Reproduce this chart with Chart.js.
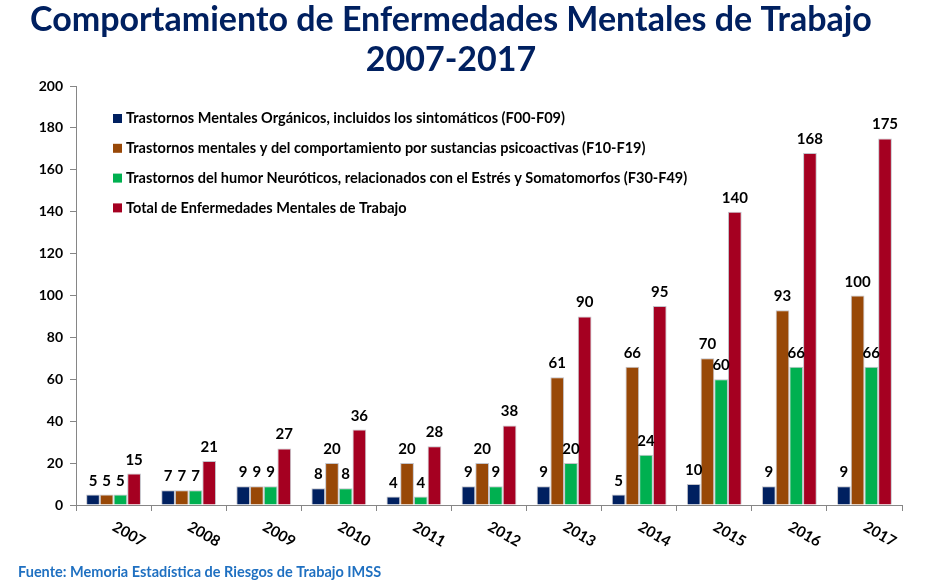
<!DOCTYPE html>
<html>
<head>
<meta charset="utf-8">
<script src="https://cdn.jsdelivr.net/npm/chart.js@4"></script>
<style>
  html, body { margin: 0; padding: 0; background: #ffffff; }
  #wrap { position: relative; width: 929px; height: 585px; }
</style>
</head>
<body>
<div id="wrap"><canvas id="c" width="929" height="585"></canvas></div>
<script>
const categories = ['2007','2008','2009','2010','2011','2012','2013','2014','2015','2016','2017'];
const organicos   = [5, 7, 9, 8, 4, 9, 9, 5, 10, 9, 9];
const sustancias  = [5, 7, 9, 20, 20, 20, 61, 66, 70, 93, 100];
const humor       = [5, 7, 9, 8, 4, 9, 20, 24, 60, 66, 66];
const totales     = [15, 21, 27, 36, 28, 38, 90, 95, 140, 168, 175];
const seriesNames = [
  'Trastornos Mentales Orgánicos, incluidos los sintomáticos (F00-F09)',
  'Trastornos mentales y del comportamiento por sustancias psicoactivas (F10-F19)',
  'Trastornos del humor Neuróticos, relacionados con el Estrés y Somatomorfos (F30-F49)',
  'Total de Enfermedades Mentales de Trabajo'
];
const seriesColors = ['#002060', '#984807', '#00B050', '#A50021'];
const titleLines = ['Comportamiento de Enfermedades Mentales de Trabajo', '2007-2017'];
const sourceText = 'Fuente: Memoria Estadística de Riesgos de Trabajo IMSS';

const FONT = 'Lato, "Open Sans", sans-serif';

const valueLabels = {
  id: 'valueLabels',
  afterDatasetsDraw(chart) {
    const ctx = chart.ctx;
    ctx.save();
    ctx.font = 'bold 15px ' + FONT;
    ctx.fillStyle = '#000000';
    ctx.textAlign = 'center';
    ctx.textBaseline = 'alphabetic';
    chart.data.datasets.forEach((ds, di) => {
      const meta = chart.getDatasetMeta(di);
      meta.data.forEach((el, i) => {
        ctx.fillText(String(ds.data[i]), el.x, el.y - 9);
      });
    });
    ctx.restore();
  }
};

const extras = {
  id: 'extras',
  afterDraw(chart) {
    const ctx = chart.ctx;
    const area = chart.chartArea;
    const xs = chart.scales.x;
    ctx.save();
    // rotated category labels
    ctx.font = 'bold 15px ' + FONT;
    ctx.fillStyle = '#000000';
    ctx.textAlign = 'left';
    ctx.textBaseline = 'top';
    chart.data.labels.forEach((lab, i) => {
      const px = xs.getPixelForValue(i);
      ctx.save();
      ctx.translate(px + 4, area.bottom + 14);
      ctx.rotate(30 * Math.PI / 180);
      ctx.fillText(lab, 0, 0);
      ctx.restore();
    });
    // legend inside plot
    ctx.font = 'bold 14.5px ' + FONT;
    ctx.textBaseline = 'middle';
    chart.data.datasets.forEach((ds, di) => {
      const cy = area.top + 32.5 + di * 29.8;
      ctx.fillStyle = ds.backgroundColor;
      ctx.fillRect(area.left + 37, cy - 4.5, 9, 9);
      ctx.fillStyle = '#000000';
      ctx.fillText(ds.label, area.left + 50, cy);
    });
    // source
    ctx.font = 'bold 14.5px ' + FONT;
    ctx.fillStyle = '#1F70C1';
    ctx.textBaseline = 'middle';
    ctx.fillText(sourceText, 18, 572);
    ctx.restore();
  }
};

new Chart(document.getElementById('c'), {
  type: 'bar',
  data: {
    labels: categories,
    datasets: [organicos, sustancias, humor, totales].map((d, i) => ({
      label: seriesNames[i],
      data: d,
      backgroundColor: seriesColors[i],
      borderColor: 'rgba(170,170,180,0.7)',
      borderWidth: 1,
      categoryPercentage: 0.73,
      barPercentage: 1.0
    }))
  },
  options: {
    responsive: false,
    animation: false,
    layout: { padding: { left: 0, right: 27, top: 0, bottom: 0 } },
    plugins: {
      legend: { display: false },
      tooltip: { enabled: false },
      title: {
        display: true,
        text: titleLines,
        color: '#002060',
        font: { family: FONT, size: 34, weight: 'bold', lineHeight: '40px' },
        padding: { top: 0, bottom: 6 }
      }
    },
    scales: {
      x: {
        type: 'category',
        offset: true,
        grid: { display: true, drawOnChartArea: false, drawTicks: true, tickLength: 6, color: '#868686', offset: true },
        border: { display: true, color: '#868686', width: 1 },
        ticks: { display: false },
        afterFit(scale) { scale.height = 80; }
      },
      y: {
        min: 0,
        max: 200,
        grid: { display: true, drawOnChartArea: false, drawTicks: true, tickLength: 6, color: '#868686' },
        border: { display: true, color: '#868686', width: 1 },
        ticks: { stepSize: 20, color: '#000000', padding: 7, font: { family: FONT, size: 14, weight: 'bold' } },
        afterFit(scale) { scale.width = 76; }
      }
    }
  },
  plugins: [valueLabels, extras]
});
</script>
</body>
</html>
